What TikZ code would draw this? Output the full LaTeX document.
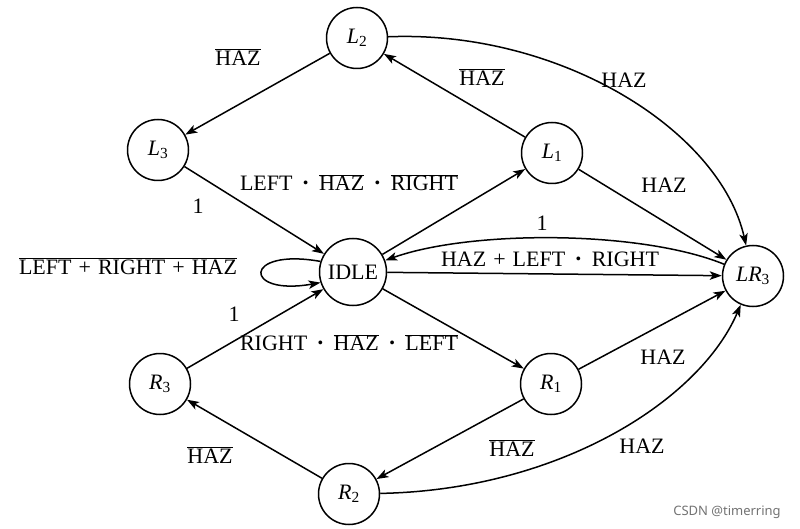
\documentclass[tikz,border=0pt]{standalone}
\usepackage{fontspec}
\setmainfont{Liberation Serif}
\newfontfamily\wmfont{Noto Sans}
\usetikzlibrary{arrows.meta}
\newcommand\ovl[1]{$\overline{\mbox{#1}}$}
\newcommand\cd{\hspace{0.36em}\raisebox{-3pt}{\fontsize{32}{32}\selectfont\textperiodcentered}\hspace{0.36em}}
\newcommand\pl{\hspace{0.32em}+\hspace{0.32em}}
\begin{document}
\begin{tikzpicture}[x=1pt,y=-1pt,
  st/.style={circle,draw,line width=1.5pt,minimum size=61pt,inner sep=0pt,font=\fontsize{22}{25}\selectfont},
  lbl/.style={font=\fontsize{22}{25}\selectfont,inner sep=1pt},
  tr/.style={line width=1.5pt,-{Stealth[length=12pt,width=8.5pt,inset=3pt]}},
  wm/.style={font=\wmfont\fontsize{13}{15}\selectfont,text=black!55}
]
\useasboundingbox[fill=white] (0,0) rectangle (800,529);

% states
\node[st] (l2) at (357,38) {\textit{L}\textsubscript{2}};
\node[st] (l3) at (158,150) {\textit{L}\textsubscript{3}};
\node[st] (l1) at (552,153) {\textit{L}\textsubscript{1}};
\node[st,minimum size=67pt] (idle) at (353,272) {IDLE};
\node[st] (lr3) at (753,276) {\textit{LR}\textsubscript{3}};
\node[st] (r3) at (160,384) {\textit{R}\textsubscript{3}};
\node[st] (r1) at (551,384) {\textit{R}\textsubscript{1}};
\node[st] (r2) at (349,494) {\textit{R}\textsubscript{2}};

% transitions
\draw[tr] (l2) -- (l3);
\draw[tr] (l1) -- (l2);
\draw[tr] (l2) .. controls (560,30) and (720,130) .. (lr3);
\draw[tr] (l1) -- (lr3);
\draw[tr] (l3) -- (idle);
\draw[tr] (idle) -- (l1);
\draw[tr] (lr3) .. controls (640,230) and (470,230) .. (idle);
\draw[tr] (idle) -- (lr3);
\draw[tr] (idle.162) .. controls +(-78,-14) and +(-78,14) .. (idle.198);
\draw[tr] (r3) -- (idle);
\draw[tr] (idle) -- (r1);
\draw[tr] (r1) -- (lr3);
\draw[tr] (r1) -- (r2);
\draw[tr] (r2) -- (r3);
\draw[tr] (r2) .. controls (560,490) and (700,400) .. (lr3);

% labels
\node[lbl] (t1) at (238,57) {\ovl{HAZ}};
\node[lbl] (t2) at (482,77) {\ovl{HAZ}};
\node[lbl] (t3) at (624,80) {HAZ};
\node[lbl] (t4) at (664,185) {HAZ};
\node[lbl] (t5) at (349,184) {LEFT\cd\ovl{HAZ}\cd\ovl{RIGHT}};
\node[lbl] (t6) at (198,206) {1};
\node[lbl] (t7) at (128,266) {\ovl{LEFT\pl RIGHT\pl HAZ}};
\node[lbl] (t8) at (542,223) {1};
\node[lbl] (t9) at (550,261) {HAZ\pl LEFT\cd RIGHT};
\node[lbl] (t10) at (234,314) {1};
\node[lbl] (t11) at (349,344) {RIGHT\cd\ovl{HAZ}\cd\ovl{LEFT}};
\node[lbl] (t12) at (663,357) {HAZ};
\node[lbl] (t13) at (512,448) {\ovl{HAZ}};
\node[lbl] (t14) at (642,446) {HAZ};
\node[lbl] (t15) at (210,455) {\ovl{HAZ}};
\node[wm] (wmk) at (727,512) {CSDN @timerring};
\end{tikzpicture}
\end{document}
